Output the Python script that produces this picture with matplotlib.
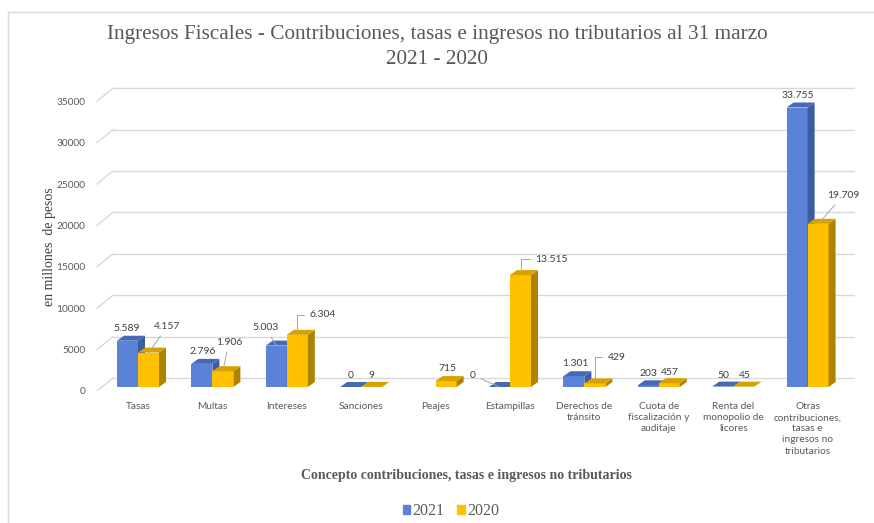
import numpy as np
import matplotlib.pyplot as plt
from matplotlib.patches import Polygon, Rectangle
from matplotlib.lines import Line2D

categories = ['Tasas', 'Multas', 'Intereses', 'Sanciones', 'Peajes', 'Estampillas',
              'Derechos de\ntránsito', 'Cuota de\nfiscalización y\nauditaje',
              'Renta del\nmonopolio de\nlicores',
              'Otras\ncontribuciones,\ntasas e\ningresos no\ntributarios']
v2021 = [5589, 2796, 5003, 0, None, 0, 1301, 203, 50, 33755]
v2020 = [4157, 1906, 6304, 9, 715, 13515, 429, 457, 45, 19709]
yticks = [0, 5000, 10000, 15000, 20000, 25000, 30000, 35000]

# label offsets in pixels (dx, dy) from bar top, and leader style
off2021 = [(-1, 12, None), (1, 12, None), (-11, 18, 'line'), (0, 11, None), None,
           (-27, 12, 'line'), (1, 13, None), (0, 12, None), (1, 11, None), (1, 12, None)]
off2020 = [(19, 26, 'line'), (6, 29, 'line'), (25, 20, 'elbow'), (0, 11, None), (1, 13, None),
           (31, 16, 'elbow'), (22, 26, 'elbow'), (1, 11, None), (1, 11, None), (25, 28, 'line')]

fig = plt.figure(figsize=(8.74, 5.23), dpi=100)
W, H = 874, 523
ytop = 36715
ax = fig.add_axes([95 / W, (H - 391) / H, 760 / W, 304 / H])
ax.set_xlim(-0.578, 9.637)
ax.set_ylim(0, ytop)
for s in ax.spines.values():
    s.set_visible(False)

upx = 10.215 / 760      # x units per pixel
vpx = ytop / 304        # value units per pixel
fdx, fdy = 18 * upx, 13 * vpx    # floor depth
bdx, bdy = 7 * upx, 5 * vpx      # bar depth
base = 4 * vpx
w = 21 * upx

grid_c = '#D9D9D9'
for t in yticks:
    ax.plot([-0.578 + 2 * upx, -0.578 + fdx], [t, t + fdy], color=grid_c, lw=1, zorder=1)
    ax.plot([-0.578 + fdx, 9.637], [t + fdy, t + fdy], color=grid_c, lw=1, zorder=1)

ax.set_yticks(yticks)
ax.set_yticklabels([str(t) for t in yticks])
x = np.arange(len(categories))
ax.set_xticks(x)
ax.set_xticklabels(categories, linespacing=1.3)
ax.tick_params(length=0, labelsize=7.3, labelcolor='#595959', labelfontfamily='Lato')
ax.tick_params(axis='y', pad=7)
ax.tick_params(axis='x', pad=8)
ax.grid(False)

styles = [('#5A83D8', '#3A5CA3', '#4768B5'), ('#FFC000', '#AD8300', '#D6A200')]


def bar3d(x0, v, cols):
    front, side, top = cols
    y0 = base
    y1 = base + v
    ax.add_patch(Rectangle((x0, y0), w, v, facecolor=front, edgecolor='none', zorder=3))
    ax.add_patch(Polygon([(x0 + w, y0), (x0 + w + bdx, y0 + bdy), (x0 + w + bdx, y1 + bdy), (x0 + w, y1)],
                         facecolor=side, edgecolor='none', zorder=3))
    ax.add_patch(Polygon([(x0, y1), (x0 + w, y1), (x0 + w + bdx, y1 + bdy), (x0 + bdx, y1 + bdy)],
                         facecolor=top, edgecolor='none', zorder=3))


def label(xc, v, off):
    dx, dy, kind = off
    txt = f'{v:,}'.replace(',', '.')
    xy = (xc, base + v)
    kw = dict(textcoords='offset pixels', ha='center', va='center', fontsize=7.5,
              color='#404040', family='Lato', zorder=5)
    if kind is None:
        ax.annotate(txt, xy, xytext=(dx, dy), **kw)
    elif kind == 'line':
        ax.annotate(txt, xy, xytext=(dx, dy),
                    arrowprops=dict(arrowstyle='-', color='#A6A6A6', lw=0.7, shrinkA=2, shrinkB=0),
                    **kw)
    else:
        ax.annotate(txt, xy, xytext=(dx, dy),
                    arrowprops=dict(arrowstyle='-', color='#A6A6A6', lw=0.7, shrinkA=2, shrinkB=0,
                                    connectionstyle='angle,angleA=0,angleB=90,rad=0'),
                    **kw)


for i in range(len(categories)):
    if v2021[i] is not None:
        bar3d(i - w, v2021[i], styles[0])
    bar3d(i, v2020[i], styles[1])
for i in range(len(categories)):
    if v2021[i] is not None:
        label(i - w / 2, v2021[i], off2021[i])
    label(i + w / 2, v2020[i], off2020[i])

fig.text(0.5, 1 - 35 / H, 'Ingresos Fiscales - Contribuciones, tasas e ingresos no tributarios al 31 marzo',
         ha='center', va='center', fontsize=15.3, family='Liberation Serif', color='#595959')
fig.text(0.5, 1 - 59 / H, '2021 - 2020',
         ha='center', va='center', fontsize=15.3, family='Liberation Serif', color='#595959')
fig.text(50 / W, 1 - 247 / H, 'en millones  de pesos', rotation=90, ha='center', va='center',
         fontsize=10, family='Liberation Serif', color='#404040')
fig.text(466 / W, 1 - 475 / H, 'Concepto contribuciones, tasas e ingresos no tributarios', ha='center',
         va='center', fontsize=10, family='Liberation Serif', weight='bold', color='#595959')

handles = [Rectangle((0, 0), 1, 1, color=styles[0][0]), Rectangle((0, 0), 1, 1, color=styles[1][0])]
fig.legend(handles, ['2021', '2020'], loc='center', bbox_to_anchor=(451 / W, 1 - 511 / H), ncol=2,
           frameon=False, prop={'family': 'Liberation Serif', 'size': 11.5}, labelcolor='#595959',
           handlelength=0.45, handleheight=0.45, handletextpad=0.15, columnspacing=0.8)

fig.add_artist(Line2D([8 / W, 1], [1 - 12 / H, 1 - 12 / H], color=grid_c, lw=1))
fig.add_artist(Line2D([8 / W, 8 / W], [0, 1 - 12 / H], color=grid_c, lw=1))

fig.savefig('out.png', dpi=100)
